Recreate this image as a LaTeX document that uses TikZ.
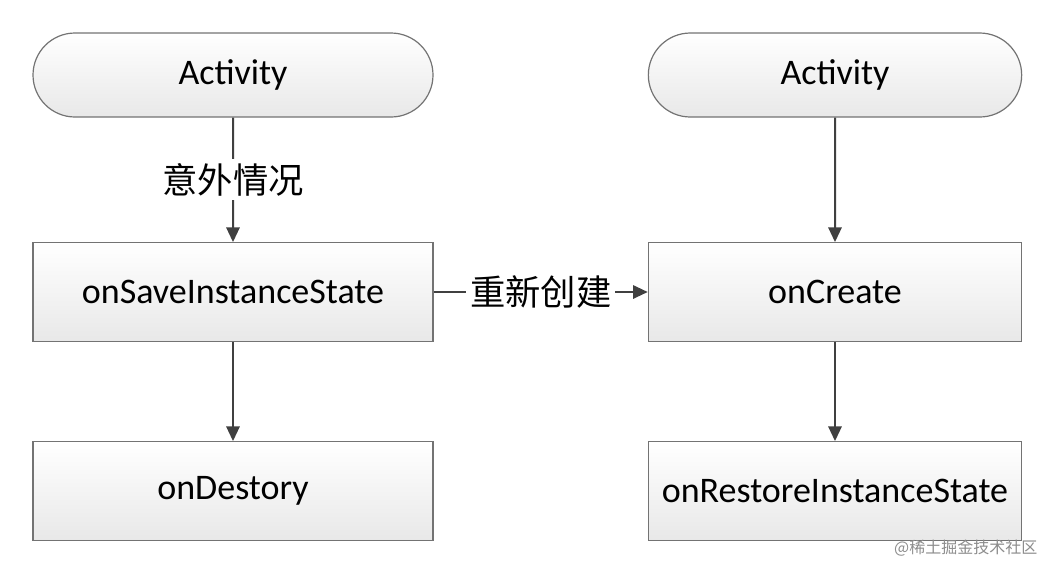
\documentclass[tikz,border=0pt]{standalone}
\usepackage{fontspec}
\setmainfont{Carlito}
\newfontfamily\cjk{Noto Sans CJK SC}
\usetikzlibrary{arrows.meta,shapes.misc}
\begin{document}
\begin{tikzpicture}[x=0.75pt,y=-0.75pt,
  box/.style={draw=black!55,line width=0.9pt,top color=white,bottom color=black!9,minimum height=74pt,inner sep=0pt,font=\fontsize{27}{30}\selectfont},
  stad/.style={box,rounded rectangle,minimum height=63pt},
  arr/.style={draw=black!75,line width=1.5pt,-{Triangle[length=11pt,width=10pt]}},
  lbl/.style={fill=white,font=\cjk\fontsize{26.5}{30}\selectfont,inner sep=3pt}]
\useasboundingbox (0,0) rectangle (1060,576);
\node[stad,minimum width=300pt] (a1) at (233,75) {Activity};
\node[stad,minimum width=280pt] (a2) at (835,75) {Activity};
\node[box,minimum width=300pt] (s) at (233,292) {onSaveInstanceState};
\node[box,minimum width=300pt] (d) at (233,491) {onDestory};
\node[box,minimum width=280pt] (c) at (835,292) {onCreate};
\node[box,minimum width=280pt] (r) at (835,491) {onRestoreInstanceState};
\draw[arr] (a1) -- node[lbl]{意外情况} (s);
\draw[arr] (s) -- (d);
\draw[arr] (a2) -- (c);
\draw[arr] (c) -- (r);
\draw[arr] (s) -- node[lbl,pos=0.5]{重新创建} (c);
\node[font=\cjk\fontsize{12}{14}\selectfont,text=black!45,anchor=east] (w) at (1042,548) {@稀土掘金技术社区};
\end{tikzpicture}
\end{document}
